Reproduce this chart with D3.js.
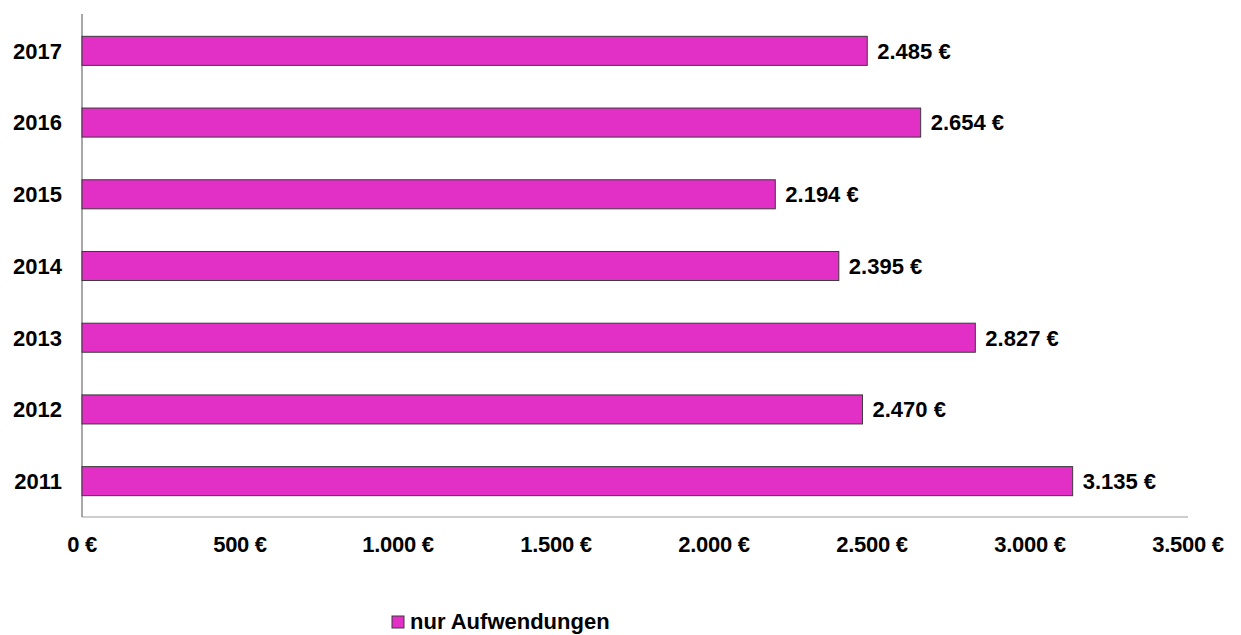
<!DOCTYPE html>
<html>
<head>
<meta charset="utf-8">
<script src="https://cdn.jsdelivr.net/npm/d3@7"></script>
<style>
  body { margin: 0; background: #fff; }
  text { font-family: "Liberation Sans", Arial, sans-serif; font-weight: bold; fill: #000; }
</style>
</head>
<body>
<div class="chart"></div>
<script>
const years = ["2017", "2016", "2015", "2014", "2013", "2012", "2011"];
const values = [2485, 2654, 2194, 2395, 2827, 2470, 3135];
const xTicks = [0, 500, 1000, 1500, 2000, 2500, 3000, 3500];
const seriesName = "nur Aufwendungen";

const width = 1241, height = 635;
const margin = { top: 15, right: 53, bottom: 118, left: 82 };

const svg = d3.select(".chart").append("svg")
  .attr("width", width)
  .attr("height", height);

const x = d3.scaleLinear()
  .domain([0, 3500])
  .range([margin.left, width - margin.right]);

const y = d3.scaleBand()
  .domain(years)
  .range([margin.top, height - margin.bottom])
  .paddingInner(0.595)
  .paddingOuter(0.2975);

const fmt = v => d3.format(",")(v).replace(/,/g, ".") + " €";

// axis lines
svg.append("line")
  .attr("x1", x(0)).attr("x2", x(3500))
  .attr("y1", height - margin.bottom).attr("y2", height - margin.bottom)
  .attr("stroke", "#bdbdbd").attr("stroke-width", 1.5);

svg.append("line")
  .attr("x1", x(0)).attr("x2", x(0))
  .attr("y1", margin.top - 1).attr("y2", height - margin.bottom)
  .attr("stroke", "#6e6e6e").attr("stroke-width", 1.2);

// bars
svg.selectAll(".bar")
  .data(values)
  .join("rect")
  .attr("class", "bar")
  .attr("x", x(0))
  .attr("y", (d, i) => y(years[i]))
  .attr("width", d => x(d) - x(0))
  .attr("height", y.bandwidth())
  .attr("fill", "#e22fc6")
  .attr("stroke", "#3a3a3a")
  .attr("stroke-width", 1);

// value labels
svg.selectAll(".val")
  .data(values)
  .join("text")
  .attr("class", "val")
  .attr("x", d => x(d) + 10)
  .attr("y", (d, i) => y(years[i]) + y.bandwidth() / 2)
  .attr("dy", "0.36em")
  .attr("font-size", 22)
  .text(d => fmt(d));

// year labels
svg.selectAll(".yl")
  .data(years)
  .join("text")
  .attr("class", "yl")
  .attr("x", 62)
  .attr("y", d => y(d) + y.bandwidth() / 2)
  .attr("dy", "0.36em")
  .attr("text-anchor", "end")
  .attr("font-size", 22)
  .text(d => d);

// x tick labels
svg.selectAll(".xl")
  .data(xTicks)
  .join("text")
  .attr("class", "xl")
  .attr("x", d => x(d))
  .attr("y", 552)
  .attr("text-anchor", "middle")
  .attr("font-size", 22)
  .attr("letter-spacing", "-0.3px")
  .text(d => fmt(d));

// legend
const lg = svg.append("g").attr("transform", "translate(392,616)");
lg.append("rect")
  .attr("width", 12).attr("height", 12)
  .attr("fill", "#e22fc6")
  .attr("stroke", "#3a3a3a");
lg.append("text")
  .attr("x", 18).attr("y", 13)
  .attr("font-size", 22)
  .text(seriesName);
</script>
</body>
</html>
